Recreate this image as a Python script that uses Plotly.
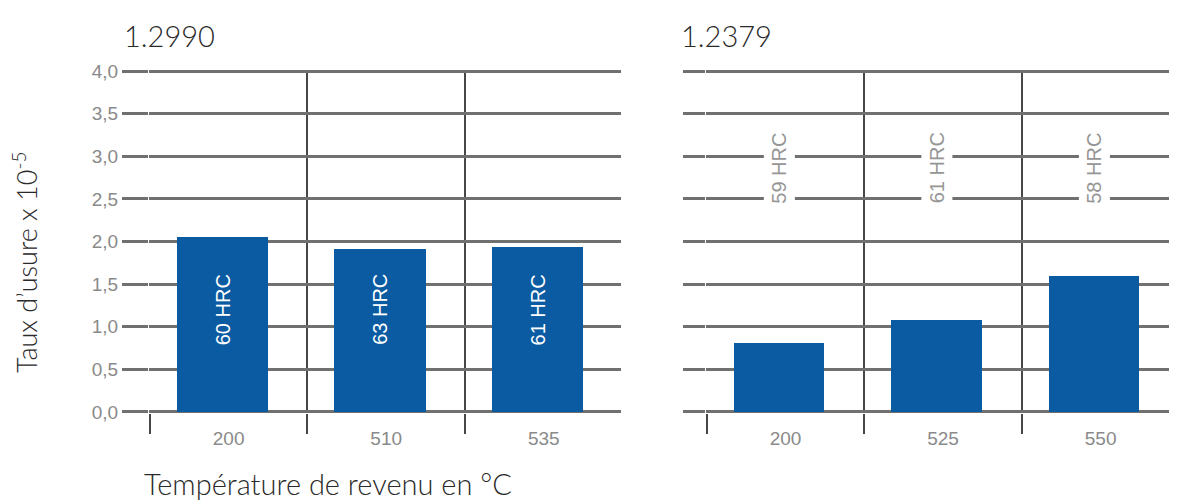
import plotly.graph_objects as go

# ---- data ----
left_title = "1.2990"
right_title = "1.2379"
left_temps = ["200", "510", "535"]
left_wear = [2.05, 1.91, 1.93]
left_hrc = ["60 HRC", "63 HRC", "61 HRC"]
right_temps = ["200", "525", "550"]
right_wear = [0.81, 1.08, 1.59]
right_hrc = ["59 HRC", "61 HRC", "58 HRC"]
y_ticks = [0, 0.5, 1.0, 1.5, 2.0, 2.5, 3.0, 3.5, 4.0]

# page body has an 8px margin: size the figure to fit the remaining window
OFF = 8
W, H = 1177 - OFF, 500 - OFF


def px(x):  # screen x -> paper fraction
    return (x - OFF) / W


def py(y):  # screen y -> paper fraction
    return (H - (y - OFF)) / H


BAR = "#0a5ba2"
TICKGRAY = "#8a8a8a"
HGRID = "#707070"
VGRID = "#474747"
LIGHT = dict(family="Lato", weight=300, color="#2a2a2a")
SANS = "Liberation Sans"

fig = go.Figure()
fig.add_trace(go.Bar(x=left_temps, y=left_wear, xaxis="x", yaxis="y",
                     width=0.58, offset=-0.33, marker=dict(color=BAR, line=dict(width=0)),
                     showlegend=False, hoverinfo="skip"))
fig.add_trace(go.Bar(x=right_temps, y=right_wear, xaxis="x2", yaxis="y2",
                     width=0.575, offset=-0.33, marker=dict(color=BAR, line=dict(width=0)),
                     showlegend=False, hoverinfo="skip"))

ydom = [py(413), py(70)]

xcommon = dict(type="category", tickson="boundaries", showgrid=True, gridcolor=VGRID,
               gridwidth=2, ticks="outside", ticklen=20, tickwidth=2, tickcolor=VGRID,
               tickfont=dict(family=SANS, size=19, color=TICKGRAY),
               ticklabelstandoff=12, showline=False, zeroline=False, fixedrange=True,
               automargin=False)
ycommon = dict(range=[-0.012, 4.012], tickvals=y_ticks, tickformat=".1f",
               showgrid=True, gridcolor=HGRID, gridwidth=2.5, ticks="outside",
               tickcolor=HGRID, tickwidth=2.5, zeroline=False, showline=False,
               tickfont=dict(family=SANS, size=19, color=TICKGRAY),
               domain=ydom, fixedrange=True, automargin=False)

fig.update_layout(
    template="none",
    width=W, height=H, margin=dict(l=0, r=0, t=0, b=0, pad=0, autoexpand=False),
    paper_bgcolor="white", plot_bgcolor="white", separators=",.",
    bargap=0,
    xaxis=dict(xcommon, domain=[px(149), px(621)], range=[-0.505, 2.49], anchor="y"),
    xaxis2=dict(xcommon, domain=[px(706), 1.0], range=[-0.505, 2.485], anchor="y2"),
    yaxis=dict(ycommon, anchor="x", ticklen=26),
    yaxis2=dict(ycommon, anchor="x2", ticklen=22, showticklabels=False),
)

ann = []
for i, t in enumerate(left_hrc):
    ann.append(dict(x=i, y=1.2, xref="x", yref="y", text=t, textangle=-90, showarrow=False,
                    xshift=-6, font=dict(family=SANS, size=20, color="white")))
for i, t in enumerate(right_hrc):
    ann.append(dict(x=i, y=2.86, xref="x2", yref="y2", text=t, textangle=-90, showarrow=False,
                    xshift=-6, bgcolor="white", borderpad=4,
                    font=dict(family=SANS, size=20, color="#969696")))
ann.append(dict(x=px(122), y=py(35), xref="paper", yref="paper", text=left_title,
                xanchor="left", yanchor="middle", showarrow=False, font=dict(LIGHT, size=29)))
ann.append(dict(x=px(679), y=py(35), xref="paper", yref="paper", text=right_title,
                xanchor="left", yanchor="middle", showarrow=False, font=dict(LIGHT, size=29)))
ann.append(dict(x=px(328), y=py(483), xref="paper", yref="paper",
                text="Température de revenu en °C", xanchor="center", yanchor="middle",
                showarrow=False, font=dict(LIGHT, size=29)))
ann.append(dict(x=px(25), y=py(263), xref="paper", yref="paper",
                text="Taux d’usure x 10<sup>-5</sup>", textangle=-90, xanchor="center",
                yanchor="middle", showarrow=False, font=dict(LIGHT, size=27)))
fig.update_layout(annotations=ann)

fig.write_html("out.html")
